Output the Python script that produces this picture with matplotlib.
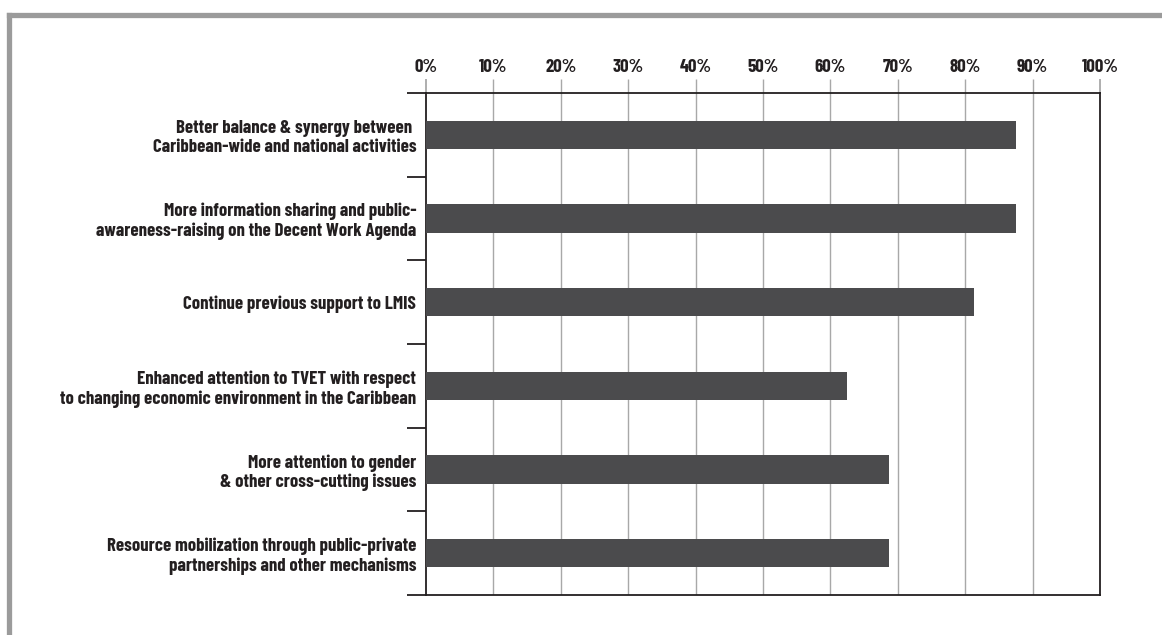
import matplotlib
matplotlib.use("Agg")
import matplotlib.pyplot as plt
from matplotlib.lines import Line2D
from matplotlib import font_manager as fm

categories = [
    "Better balance & synergy between \nCaribbean-wide and national activities",
    "More information sharing and public-\nawareness-raising on the Decent Work Agenda",
    "Continue previous support to LMIS",
    "Enhanced attention to TVET with respect\nto changing economic environment in the Caribbean",
    "More attention to gender\n& other cross-cutting issues",
    "Resource mobilization through public-private\npartnerships and other mechanisms",
]
values = [87.5, 87.5, 81.25, 62.5, 68.75, 68.75]
xtick_vals = [0, 10, 20, 30, 40, 50, 60, 70, 80, 90, 100]
xtick_labels = [f"{v}%" for v in xtick_vals]

installed = set(f.name for f in fm.fontManager.ttflist)
family = 'DejaVu Sans'
for cand in ['Barlow Condensed', 'Roboto Condensed', 'Archivo Narrow', 'PT Sans Narrow']:
    if cand in installed:
        family = cand
        break
plt.rcParams['font.family'] = [family, 'DejaVu Sans']
weight = 'bold'

text_color = '#231f20'
bar_color = '#4b4b4d'
grid_color = '#a8a8a8'

fig = plt.figure(figsize=(11.62, 6.35), dpi=100)
ax = fig.add_axes([426/1162, 1 - 595/635, (1100-426)/1162, (595-93)/635])

n = len(categories)
ypos = list(range(n))
ax.barh(ypos, values, height=0.34, color=bar_color, zorder=3)
ax.set_xlim(0, 100)
ax.set_ylim(n - 0.5, -0.5)

for v in xtick_vals[1:-1]:
    ax.axvline(v, color=grid_color, lw=1.0, zorder=1)

fs = 12
ax.xaxis.tick_top()
ax.set_xticks(xtick_vals)
ax.set_xticklabels(xtick_labels, color=text_color, fontsize=fs, fontweight=weight)
ax.tick_params(axis='x', which='major', direction='out', length=10, width=1.0,
               color=grid_color, pad=2.5)
ticks = ax.xaxis.get_major_ticks()
for t in (ticks[0], ticks[-1]):
    t.tick2line.set_color(text_color)
    t.tick2line.set_markeredgewidth(1.3)

ax.set_yticks([i - 0.5 for i in range(n + 1)])
ax.set_yticklabels([])
ax.tick_params(axis='y', which='major', direction='out', length=14, width=1.3,
               color=text_color)
ax.set_yticks(ypos, minor=True)
ax.set_yticklabels(categories, minor=True, color=text_color, linespacing=1.18,
                   fontsize=fs, fontweight=weight)
ax.tick_params(axis='y', which='minor', length=0, pad=7)

for s in ['top', 'bottom', 'left', 'right']:
    ax.spines[s].set_color(text_color)
    ax.spines[s].set_linewidth(1.3)

# fit the label size to the reference width of the widest label (~355 px)
fig.canvas.draw()
r = fig.canvas.get_renderer()
labs = ax.get_yticklabels(minor=True)
wmax = max(l.get_window_extent(r).width for l in labs)
new_fs = fs * 355.0 / wmax
for l in labs:
    l.set_fontsize(new_fs)
for l in ax.get_xticklabels():
    l.set_fontsize(new_fs)

frame_color = '#9b9b9b'
fig.add_artist(Line2D([8.5/1162, 1.0], [1 - 14.5/635, 1 - 14.5/635],
                      transform=fig.transFigure, color=frame_color, lw=3.8,
                      solid_capstyle='projecting'))
fig.add_artist(Line2D([8.5/1162, 8.5/1162], [0.0, 1 - 14.5/635],
                      transform=fig.transFigure, color=frame_color, lw=3.8,
                      solid_capstyle='projecting'))

fig.savefig("out.png", dpi=100)
